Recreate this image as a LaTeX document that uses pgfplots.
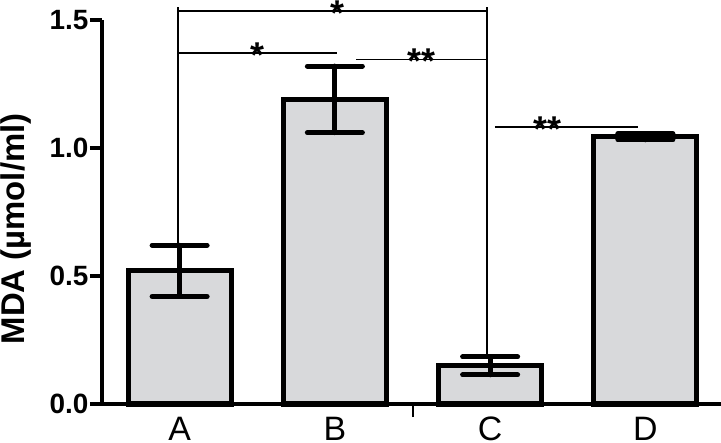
\documentclass[border=0pt]{standalone}
\usepackage{fontspec}
\setmainfont{Liberation Sans}
\usepackage{pgfplots}
\pgfplotsset{compat=1.18}
\definecolor{barfill}{RGB}{216,217,219}
\begin{document}
\begin{tikzpicture}
\begin{axis}[
  at={(0,0)}, anchor=south west,
  scale only axis, width=621bp, height=384bp,
  xmin=-0.5, xmax=3.5, ymin=0, ymax=1.5,
  clip=false,
  axis x line=bottom, axis y line=left,
  axis line style={line width=4bp, -},
  xtick={0,1,2,3}, xticklabels={A,B,C,D},
  x tick style={draw=none},
  extra x ticks={1.5}, extra x tick labels={},
  extra x tick style={x tick style={draw=black, line width=2bp}, major tick length=13bp},
  ytick={0,0.5,1,1.5},
  y tick style={line width=3.5bp, black},
  tick align=outside, major tick length=12bp,
  yticklabel style={font=\bfseries\fontsize{28}{28}\selectfont, inner sep=1.5bp},
  xticklabel style={font=\fontsize{34}{34}\selectfont, inner sep=0pt, text depth=0pt, anchor=base, yshift=-24bp},
  /pgf/number format/.cd, fixed, fixed zerofill, precision=1, assume math mode=true,
  /pgfplots/.cd,
  ylabel={MDA (µmol/ml)},
  ylabel style={font=\bfseries\fontsize{33}{33}\selectfont, at={(axis description cs:-0.138,0.456)}, anchor=center},
]
\addplot[ybar, bar width=103bp, fill=barfill, draw=black, line width=5bp,
  error bars/.cd, y dir=both, y explicit,
  error bar style={line width=5bp, black, line cap=round},
  error mark options={rotate=90, mark size=27.5bp, line width=5bp, black, line cap=round}]
  coordinates {
  (0,0.52) +- (0,0.10)
  (1,1.19) +- (0,0.13)
  (2,0.149) +- (0,0.035)
  (3,1.044) +- (0,0.012)
  };
\draw[line width=1.5bp] (axis cs:-0.01,0.63) -- (axis cs:-0.01,1.55);
\draw[line width=1.5bp] (axis cs:1.98,0.19) -- (axis cs:1.98,1.55);
\draw[line width=1.5bp] (axis cs:-0.01,1.535) -- (axis cs:1.98,1.535);
\draw[line width=1.5bp] (axis cs:-0.01,1.371) -- (axis cs:1.014,1.371);
\draw[line width=1.5bp] (axis cs:1.137,1.346) -- (axis cs:1.98,1.346);
\draw[line width=1.5bp] (axis cs:2.03,1.082) -- (axis cs:2.95,1.082);
\tikzset{star/.style={font=\bfseries\fontsize{36}{36}\selectfont, inner sep=0pt, anchor=base}}
\node[star, yshift=-14bp] at (axis cs:1.014,1.535) {*};
\node[star, yshift=-14bp] at (axis cs:0.5,1.371) {*};
\node[star, yshift=-14bp] at (axis cs:1.56,1.346) {**};
\node[star, yshift=-14bp] at (axis cs:2.37,1.082) {**};
\end{axis}
\pgfresetboundingbox
\path[use as bounding box] (-102bp,-39bp) rectangle (619bp,404bp);
\end{tikzpicture}
\end{document}
